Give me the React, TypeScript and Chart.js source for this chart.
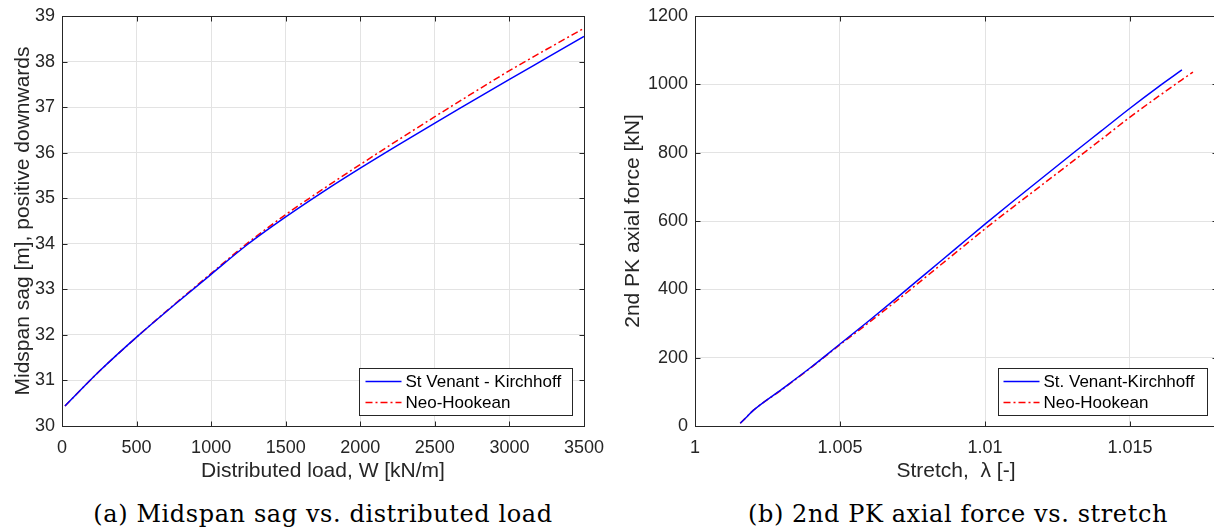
import React, { useEffect, useRef } from 'react';
import { Chart, registerables } from 'chart.js';

Chart.register(...registerables);

const FONT = '"Liberation Sans", Arial, Helvetica, sans-serif';
const AXIS_COLOR = '#262626';
const GRID_COLOR = '#e3e3e3';

// ---- (a) Midspan sag vs. distributed load ----
const loadW = [20, 250, 500, 750, 1000, 1250, 1500, 1750, 2000, 2250, 2500, 2750, 3000, 3250, 3500];
const sagSVK = [30.44, 31.2, 31.95, 32.65, 33.33, 34.0, 34.59, 35.14, 35.66, 36.16, 36.65, 37.13, 37.61, 38.08, 38.55];
const sagNH = [30.44, 31.2, 31.95, 32.66, 33.35, 34.03, 34.64, 35.2, 35.74, 36.27, 36.79, 37.3, 37.8, 38.27, 38.73];
const seriesLabelsA = ['St Venant - Kirchhoff', 'Neo-Hookean'];

// ---- (b) 2nd PK axial force vs. stretch ----
const stretchSVK = [1.00156, 1.0018, 1.002, 1.003, 1.004, 1.005, 1.006, 1.007, 1.008, 1.009, 1.01, 1.011, 1.012, 1.013, 1.014, 1.015, 1.016, 1.01679];
const forceSVK = [8, 28, 45, 108, 172, 240, 308, 378, 449, 520, 591, 660, 728, 796, 863, 930, 994, 1042];
const stretchNH = [1.00156, 1.0018, 1.002, 1.003, 1.004, 1.005, 1.006, 1.007, 1.008, 1.009, 1.01, 1.011, 1.012, 1.013, 1.014, 1.015, 1.016, 1.01717];
const forceNH = [8, 28, 45, 107, 171, 238, 303, 370, 439, 508, 577, 643, 708, 773, 838, 904, 966, 1036];
const seriesLabelsB = ['St. Venant-Kirchhoff', 'Neo-Hookean'];

const captionA = '(a) Midspan sag vs. distributed load';
const captionB = '(b) 2nd PK axial force vs. stretch';

const SVK_COLOR = '#0000ff';
const NH_COLOR = '#ff0000';
const NH_DASH = [7, 3, 2, 3];

const matlabPlugin = {
  id: 'matlabBox',
  afterDatasetsDraw(chart: any, _args: any, opts: any) {
    const { ctx, chartArea: ca } = chart;
    const xs = chart.scales.x;
    const ys = chart.scales.y;
    const L = Math.round(ca.left) + 0.5;
    const R = Math.round(ca.right) + 0.5;
    const T = Math.round(ca.top) + 0.5;
    const B = Math.round(ca.bottom) + 0.5;
    ctx.save();
    ctx.strokeStyle = AXIS_COLOR;
    ctx.lineWidth = 1;
    ctx.setLineDash([]);
    ctx.strokeRect(L, T, R - L, B - T);
    const TL = 5;
    ctx.beginPath();
    xs.ticks.forEach((t: any) => {
      const px = Math.round(xs.getPixelForValue(t.value)) + 0.5;
      ctx.moveTo(px, B);
      ctx.lineTo(px, B - TL);
      ctx.moveTo(px, T);
      ctx.lineTo(px, T + TL);
    });
    ys.ticks.forEach((t: any) => {
      const py = Math.round(ys.getPixelForValue(t.value)) + 0.5;
      ctx.moveTo(L, py);
      ctx.lineTo(L + TL, py);
      ctx.moveTo(R, py);
      ctx.lineTo(R - TL, py);
    });
    ctx.stroke();

    // legend (southeast, inside axes)
    const bw = opts.width;
    const bh = 47;
    const bx = Math.round(ca.right - opts.right - bw) + 0.5;
    const by = Math.round(ca.bottom - 11 - bh) + 0.5;
    ctx.fillStyle = '#ffffff';
    ctx.fillRect(bx, by, bw, bh);
    ctx.strokeStyle = AXIS_COLOR;
    ctx.strokeRect(bx, by, bw, bh);
    chart.data.datasets.forEach((ds: any, i: number) => {
      const ly = Math.round(by + 12 + i * 21.5) + 0.5;
      ctx.beginPath();
      ctx.strokeStyle = ds.borderColor;
      ctx.lineWidth = 1.5;
      ctx.setLineDash(ds.borderDash || []);
      ctx.moveTo(bx + opts.lineStart, ly);
      ctx.lineTo(bx + opts.lineStart + 36, ly);
      ctx.stroke();
      ctx.setLineDash([]);
      ctx.fillStyle = '#000000';
      ctx.font = `17px ${FONT}`;
      ctx.textBaseline = 'middle';
      ctx.textAlign = 'left';
      ctx.fillText(ds.label, bx + opts.lineStart + 40, ly + 1);
    });
    ctx.restore();
  },
};

function makeScale(opts: {
  min: number;
  max: number;
  step: number;
  title: string;
  axis: 'x' | 'y';
  size: number;
  fmt: (v: number) => string;
}) {
  const isX = opts.axis === 'x';
  return {
    type: 'linear',
    min: opts.min,
    max: opts.max,
    afterFit: (s: any) => {
      if (isX) s.height = opts.size;
      else s.width = opts.size;
      s.paddingLeft = 0;
      s.paddingRight = 0;
      s.paddingTop = 0;
      s.paddingBottom = 0;
    },
    ticks: {
      stepSize: opts.step,
      includeBounds: false,
      autoSkip: false,
      maxRotation: 0,
      padding: isX ? 11 : 7,
      color: AXIS_COLOR,
      font: { family: FONT, size: 18 },
      callback: (v: any) => opts.fmt(Number(v)),
    },
    grid: { color: GRID_COLOR, lineWidth: 1, drawTicks: false },
    border: { display: false },
    title: {
      display: true,
      text: opts.title,
      color: AXIS_COLOR,
      font: { family: FONT, size: 21 },
      padding: isX ? { top: 0, bottom: 6 } : { top: 11, bottom: 0 },
    },
  };
}

function lineDataset(label: string, xs: number[], ys: number[], color: string, dash: number[]) {
  return {
    label,
    data: xs.map((x, i) => ({ x, y: ys[i] })),
    borderColor: color,
    backgroundColor: color,
    borderWidth: 1.5,
    borderDash: dash,
    pointRadius: 0,
    fill: false,
    cubicInterpolationMode: 'monotone',
  };
}

function PlotCanvas({ config, left, width, height }: any) {
  const ref = useRef<HTMLCanvasElement>(null);
  useEffect(() => {
    const chart = new Chart(ref.current as HTMLCanvasElement, config);
    return () => chart.destroy();
  }, []);
  return (
    <canvas
      ref={ref}
      width={width}
      height={height}
      style={{ position: 'absolute', left, top: 0, width, height }}
    />
  );
}

const configA: any = {
  type: 'line',
  data: {
    datasets: [
      lineDataset(seriesLabelsA[0], loadW, sagSVK, SVK_COLOR, []),
      lineDataset(seriesLabelsA[1], loadW, sagNH, NH_COLOR, NH_DASH),
    ],
  },
  options: {
    responsive: false,
    maintainAspectRatio: false,
    devicePixelRatio: 1,
    animation: false,
    layout: { padding: { left: 0, top: 16, right: 26, bottom: 0 } },
    plugins: { legend: { display: false }, tooltip: { enabled: false }, matlabBox: { width: 213, right: 12, lineStart: 6 } },
    scales: {
      x: makeScale({ min: 0, max: 3500, step: 500, title: 'Distributed load, W [kN/m]', axis: 'x', size: 64, fmt: (v) => String(v) }),
      y: makeScale({ min: 30, max: 39, step: 1, title: 'Midspan sag [m], positive downwards', axis: 'y', size: 62, fmt: (v) => String(v) }),
    },
  },
  plugins: [matlabPlugin],
};

const configB: any = {
  type: 'line',
  data: {
    datasets: [
      lineDataset(seriesLabelsB[0], stretchSVK, forceSVK, SVK_COLOR, []),
      lineDataset(seriesLabelsB[1], stretchNH, forceNH, NH_COLOR, NH_DASH),
    ],
  },
  options: {
    responsive: false,
    maintainAspectRatio: false,
    devicePixelRatio: 1,
    animation: false,
    layout: { padding: { left: 0, top: 16, right: 13, bottom: 0 } },
    plugins: { legend: { display: false }, tooltip: { enabled: false }, matlabBox: { width: 209, right: 10, lineStart: 5 } },
    scales: {
      x: makeScale({ min: 1, max: 1.018, step: 0.005, title: 'Stretch,  \u03bb [-]', axis: 'x', size: 64, fmt: (v) => String(Number(v.toFixed(3))) }),
      y: makeScale({ min: 0, max: 1200, step: 200, title: '2nd PK axial force [kN]', axis: 'y', size: 85, fmt: (v) => String(Math.round(v)) }),
    },
  },
  plugins: [matlabPlugin],
};

const captionStyle: React.CSSProperties = {
  position: 'absolute',
  top: 502,
  width: 600,
  textAlign: 'center',
  fontFamily: '"DejaVu Serif", serif',
  fontSize: 24,
  lineHeight: '24px',
  letterSpacing: '0.6px',
  color: '#000',
  whiteSpace: 'nowrap',
};

export default function App() {
  return (
    <div
      style={{
        position: 'absolute',
        left: 0,
        top: 0,
        width: 1214,
        height: 529,
        overflow: 'hidden',
        background: '#ffffff',
      }}
    >
      <PlotCanvas config={configA} left={0} width={610} height={490} />
      <PlotCanvas config={configB} left={610} width={620} height={490} />
      <div style={{ ...captionStyle, left: 323 - 300 }}>{captionA}</div>
      <div style={{ ...captionStyle, left: 958 - 300 }}>{captionB}</div>
    </div>
  );
}
